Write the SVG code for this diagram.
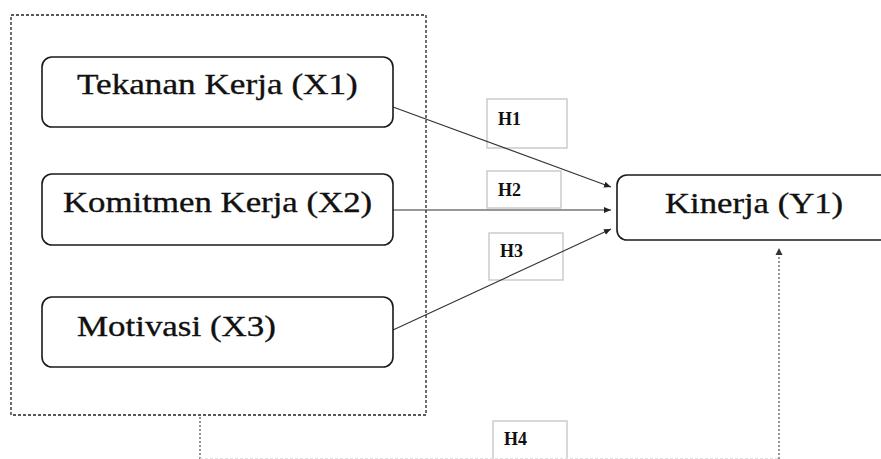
<svg xmlns="http://www.w3.org/2000/svg" width="881" height="459" viewBox="0 0 881 459">
<defs>
<style>
.node{fill:#fff;stroke:#1a1a1a;stroke-width:1.6}
.lbl{font-family:"Liberation Serif","Times New Roman",serif;font-size:29.5px;fill:#111;stroke:#111;stroke-width:0.35}
.hbox{fill:#fff;stroke:#c4c4c4;stroke-width:1.3}
.hl{font-family:"Liberation Serif","Times New Roman",serif;font-size:18px;font-weight:bold;fill:#111}
.conn{stroke:#333;stroke-width:1.1;fill:none}
.dot{stroke:#8a8a8a;stroke-width:1.8;stroke-dasharray:2 2;fill:none}
</style>
<marker id="ah" markerWidth="8" markerHeight="8" refX="7" refY="4" orient="auto" markerUnits="userSpaceOnUse">
<path d="M0,1 L7,4 L0,7 Z" fill="#222"/>
</marker>
</defs>
<rect width="881" height="459" fill="#fff"/>
<g id="group-box">
<rect x="11" y="15" width="415" height="400" fill="none" stroke="#222" stroke-width="1.3" stroke-dasharray="3 2"/>
</g>
<g id="hyp-boxes">
<g id="h1"><rect class="hbox" x="487" y="99" width="80" height="49"/><text class="hl" x="498" y="125">H1</text></g>
<g id="h2"><rect class="hbox" x="487" y="171" width="74" height="37"/><text class="hl" x="498" y="196">H2</text></g>
<g id="h3"><rect class="hbox" x="489" y="233" width="74" height="47"/><text class="hl" x="500" y="257">H3</text></g>
<g id="h4"><rect class="hbox" x="493" y="421" width="74" height="45"/><text class="hl" x="504" y="445">H4</text></g>
</g>
<g id="connectors">
<line class="conn" x1="393" y1="107" x2="611" y2="187" marker-end="url(#ah)"/>
<line class="conn" x1="393" y1="210" x2="611" y2="210" marker-end="url(#ah)"/>
<line class="conn" x1="393" y1="330" x2="611" y2="229" marker-end="url(#ah)"/>
<line class="dot" x1="200" y1="417" x2="200" y2="459"/>
<line x1="200" y1="458.5" x2="779" y2="458.5" stroke="#e2e2e2" stroke-width="1" stroke-dasharray="3 2"/>
<line class="dot" x1="779" y1="459" x2="779" y2="254"/>
<path d="M775.5,255 L779,248 L782.5,255 Z" fill="#333"/>
</g>
<g id="x1">
<rect class="node" x="42" y="57" width="351" height="70" rx="10"/>
<text class="lbl" transform="translate(77,94) scale(1.18,1)" textLength="238" lengthAdjust="spacingAndGlyphs">Tekanan Kerja (X1)</text>
</g>
<g id="x2">
<rect class="node" x="42" y="174" width="351" height="71" rx="10"/>
<text class="lbl" transform="translate(63,212) scale(1.18,1)" textLength="262" lengthAdjust="spacingAndGlyphs">Komitmen Kerja (X2)</text>
</g>
<g id="x3">
<rect class="node" x="42" y="297" width="351" height="70" rx="10"/>
<text class="lbl" transform="translate(77,336) scale(1.18,1)" textLength="168.5" lengthAdjust="spacingAndGlyphs">Motivasi (X3)</text>
</g>
<g id="y1">
<rect class="node" x="617" y="175" width="280" height="65" rx="10"/>
<text class="lbl" transform="translate(665,213) scale(1.18,1)" textLength="151" lengthAdjust="spacingAndGlyphs">Kinerja (Y1)</text>
</g>
</svg>
